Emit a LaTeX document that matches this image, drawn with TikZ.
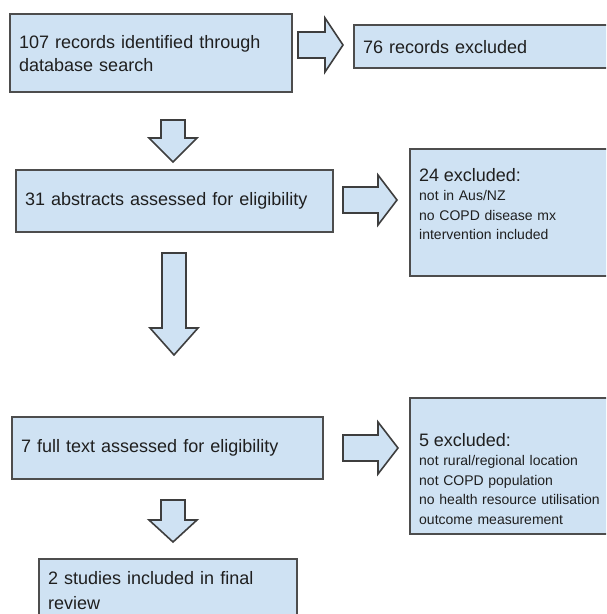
\documentclass[tikz,border=0pt]{standalone}
\usepackage{fontspec}
\setmainfont{Liberation Sans}
\usepackage{xcolor}
\definecolor{boxfill}{HTML}{CFE2F3}
\definecolor{boxline}{HTML}{4D4D4D}
\definecolor{textcol}{HTML}{1F1F1F}
\newcommand{\bigline}[1]{{\fontsize{18}{19.5}\selectfont #1}}

\begin{document}
\begin{tikzpicture}[x=1pt,y=-1pt,
  box/.style={draw=boxline, line width=2.4pt, fill=boxfill, anchor=north west,
    inner xsep=9pt, inner ysep=0pt, align=left, text=textcol,
    font=\fontsize{18}{23}\selectfont},
  notes/.style={anchor=north west, inner sep=0pt, align=left, text width=190pt,
    text=textcol, font=\fontsize{14}{19.5}\selectfont},
  blockarrow/.style={draw=boxline!80!black, line width=1.6pt, fill=boxfill, line join=miter}]
\useasboundingbox (0,0) rectangle (606,614);
\clip (0,0) rectangle (606,614);
% boxes on the left
\node[box, minimum width=282pt, minimum height=78pt, text width=264pt] (records) at (9,13) {107 records identified through\\database search};
\node[box, minimum width=317pt, minimum height=62pt, text width=299pt] (abstracts) at (15,169) {31 abstracts assessed for eligibility};
\node[box, minimum width=311pt, minimum height=62pt, text width=293pt] (fulltext) at (11,416) {7 full text assessed for eligibility};
\node[box, minimum width=258pt, minimum height=62pt, text width=240pt, font=\fontsize{18}{25}\selectfont] (included) at (38,558) {2 studies included in final\\review};
% boxes on the right
\node[box, minimum width=267pt, minimum height=43pt, text width=249pt] (excluded) at (353,24) {76 records excluded};
\node[box, minimum width=211pt, minimum height=127pt] (excluded2) at (409,148) {};
\node[notes] (reasons2) at (419,168) {\bigline{24 excluded:}\\not in Aus/NZ\\no COPD disease mx\\intervention included};
\node[box, minimum width=211pt, minimum height=136pt] (excluded3) at (409,397) {};
\node[notes] (reasons3) at (419,433) {\bigline{5 excluded:}\\not rural/regional location\\not COPD population\\no health resource utilisation\\outcome measurement};
% arrows to the right
\draw[blockarrow] (298,32) -- (325,32) -- (325,18) -- (343,45) -- (325,72) -- (325,58) -- (298,58) -- cycle;
\draw[blockarrow] (343,187) -- (378,187) -- (378,175) -- (397,200) -- (378,225) -- (378,213) -- (343,213) -- cycle;
\draw[blockarrow] (343,435) -- (378,435) -- (378,422) -- (398,448) -- (378,474) -- (378,461) -- (343,461) -- cycle;
% arrows down
\draw[blockarrow] (161,120) -- (185,120) -- (185,138) -- (197,138) -- (173,162) -- (149,138) -- (161,138) -- cycle;
\draw[blockarrow] (162,253) -- (186,253) -- (186,328) -- (198,328) -- (174,355) -- (150,328) -- (162,328) -- cycle;
\draw[blockarrow] (161,500) -- (185,500) -- (185,520) -- (197,520) -- (173,542) -- (149,520) -- (161,520) -- cycle;
\end{tikzpicture}
\end{document}
